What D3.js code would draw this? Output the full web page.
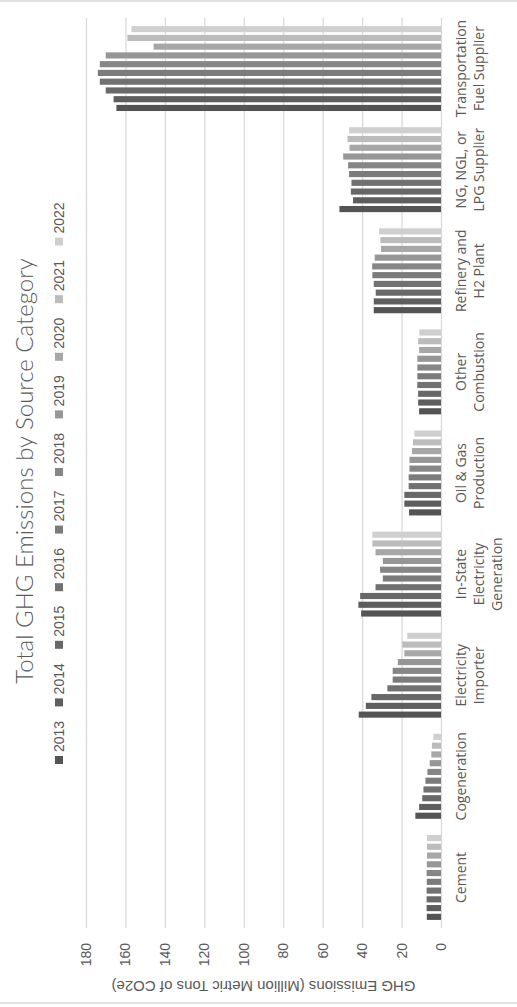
<!DOCTYPE html>
<html>
<head>
<meta charset="utf-8">
<script src="https://cdn.jsdelivr.net/npm/d3@7"></script>
<style>
  body { margin: 0; background: #fff; }
  svg { display: block; }
</style>
</head>
<body>
<svg id="chart" width="517" height="1007"></svg>
<script>
// chart is drawn in its own (landscape) frame, then turned a quarter turn to the left
var categories = [ 'Cement', 'Cogeneration', 'Electricity\nImporter', 'In-State\nElectricity\nGeneration',
	'Oil & Gas\nProduction', 'Other\nCombustion', 'Refinery and\nH2 Plant', 'NG, NGL, or\nLPG Supplier',
	'Transportation\nFuel Supplier' ];
var years = [ '2013', '2014', '2015', '2016', '2017', '2018', '2019', '2020', '2021', '2022' ];

// values per category, 2013 .. 2022
var cement         = [ 7.2, 7.3, 7.3, 7.3, 7.2, 7.3, 7.2, 7.1, 7.1, 7.1 ];
var cogeneration   = [ 13.0, 11.1, 9.5, 8.9, 7.9, 6.9, 5.7, 4.9, 4.6, 3.9 ];
var elecImporter   = [ 41.7, 38.1, 35.3, 27.2, 24.5, 24.5, 21.9, 18.6, 19.6, 17.1 ];
var inStateElec    = [ 40.5, 41.9, 41.0, 33.2, 29.5, 30.9, 29.5, 33.2, 34.8, 34.8 ];
var oilGas         = [ 16.2, 18.6, 18.6, 16.4, 16.4, 16.0, 16.0, 14.7, 14.2, 13.5 ];
var otherComb      = [ 11.1, 11.6, 11.6, 12.0, 12.0, 12.0, 12.0, 11.1, 11.6, 11.0 ];
var refinery       = [ 34.1, 34.1, 33.1, 34.1, 34.8, 34.9, 33.6, 30.4, 30.7, 31.4 ];
var ngSupplier     = [ 51.5, 44.6, 45.7, 45.4, 46.6, 47.1, 49.6, 46.4, 47.4, 46.6 ];
var transportation = [ 164.6, 166.0, 170.0, 173.0, 174.0, 173.0, 170.0, 145.7, 159.0, 157.0 ];

var yTicks = [ 0, 20, 40, 60, 80, 100, 120, 140, 160, 180 ];

var series = [ cement, cogeneration, elecImporter, inStateElec, oilGas, otherComb, refinery, ngSupplier, transportation ];
var colors = [ '#545454', '#5e5e5e', '#686868', '#717171', '#7b7b7b', '#868686', '#969696', '#a7a7a7', '#bcbcbc', '#cfcfcf' ];

var W = 1007;
var plotL = 79, plotR = 989, plotT = 86, plotB = 441;

var svg = d3.select( '#chart' );

svg.append( 'rect' )
	.attr( 'x', -2 ).attr( 'y', 1 ).attr( 'width', 521 ).attr( 'height', 1002 )
	.style( 'fill', 'none' ).style( 'stroke', '#d9d9d9' ).style( 'stroke-width', 1.5 );

var g = svg.append( 'g' ).attr( 'transform', 'translate(0,' + W + ') rotate(-90)' );

var x0 = d3.scaleBand().domain( categories ).range( [ plotL, plotR ] );
var bw = x0.bandwidth();
var x1 = d3.scaleBand().domain( years ).range( [ bw * 0.08, bw * 0.92 ] ).paddingInner( 0.3 );
var y = d3.scaleLinear().domain( [ 0, 180 ] ).range( [ plotB, plotT ] );

// grid + tick labels
var yAxis = g.append( 'g' )
	.attr( 'transform', 'translate(' + plotL + ',0)' )
	.call( d3.axisLeft( y ).tickValues( yTicks ).tickSizeInner( -( plotR - plotL ) ).tickSizeOuter( 0 ).tickPadding( 15 ) );
yAxis.select( '.domain' ).remove();
yAxis.selectAll( '.tick line' ).style( 'stroke', '#d9d9d9' ).style( 'stroke-width', 1.3 );
yAxis.selectAll( '.tick text' )
	.style( 'font-family', '"Liberation Sans", Arial, sans-serif' )
	.style( 'font-size', '14px' ).style( 'fill', '#595959' );

// bars
var groups = g.selectAll( 'g.cat' ).data( categories )
	.enter().append( 'g' ).attr( 'class', 'cat' )
	.attr( 'transform', function( d ) { return 'translate(' + x0( d ) + ',0)'; } );

groups.selectAll( 'rect' )
	.data( function( d, i ) { return series[ i ].map( function( v, j ) { return { year: years[ j ], value: v, k: j }; } ); } )
	.enter().append( 'rect' )
	.attr( 'x', function( d ) { return x1( d.year ); } )
	.attr( 'width', x1.bandwidth() )
	.attr( 'y', function( d ) { return y( d.value ); } )
	.attr( 'height', function( d ) { return y( 0 ) - y( d.value ); } )
	.style( 'fill', function( d ) { return colors[ d.k ]; } );

// category labels
groups.each( function( d ) {
	var lines = d.split( '\n' );
	var t = d3.select( this ).append( 'text' )
		.attr( 'text-anchor', 'middle' )
		.style( 'font-family', '"Open Sans", sans-serif' )
		.style( 'font-size', '14px' ).style( 'fill', '#595959' );
	lines.forEach( function( line, i ) {
		t.append( 'tspan' ).attr( 'x', bw / 2 ).attr( 'y', 466 + i * 18 ).text( line );
	} );
} );

// axis title
g.append( 'text' )
	.attr( 'transform', 'translate(21,' + ( ( plotT + plotB ) / 2 ) + ') rotate(-90)' )
	.attr( 'text-anchor', 'middle' ).attr( 'dy', '0.35em' )
	.style( 'font-family', '"Liberation Sans", Arial, sans-serif' )
	.style( 'font-size', '15px' ).style( 'fill', '#595959' )
	.text( 'GHG Emissions (Million Metric Tons of CO2e)' );

// chart title
g.append( 'text' )
	.attr( 'x', ( plotL + plotR ) / 2 + 2 ).attr( 'y', 33 )
	.attr( 'text-anchor', 'middle' )
	.style( 'font-family', 'Lato, sans-serif' ).style( 'font-weight', 300 )
	.style( 'font-size', '24px' ).style( 'fill', '#595959' )
	.text( 'Total GHG Emissions by Source Category' );

// legend
var legend = g.selectAll( 'g.leg' ).data( years )
	.enter().append( 'g' ).attr( 'class', 'leg' )
	.attr( 'transform', function( d, i ) { return 'translate(' + ( 243 + i * 57.6 ) + ',59)'; } );
legend.append( 'rect' )
	.attr( 'x', 0 ).attr( 'y', -4 ).attr( 'width', 8 ).attr( 'height', 8 )
	.style( 'fill', function( d, i ) { return colors[ i ]; } );
legend.append( 'text' )
	.attr( 'x', 12 ).attr( 'dy', '0.36em' )
	.style( 'font-family', '"Liberation Sans", Arial, sans-serif' )
	.style( 'font-size', '14px' ).style( 'fill', '#595959' )
	.text( function( d ) { return d; } );
</script>
</body>
</html>
